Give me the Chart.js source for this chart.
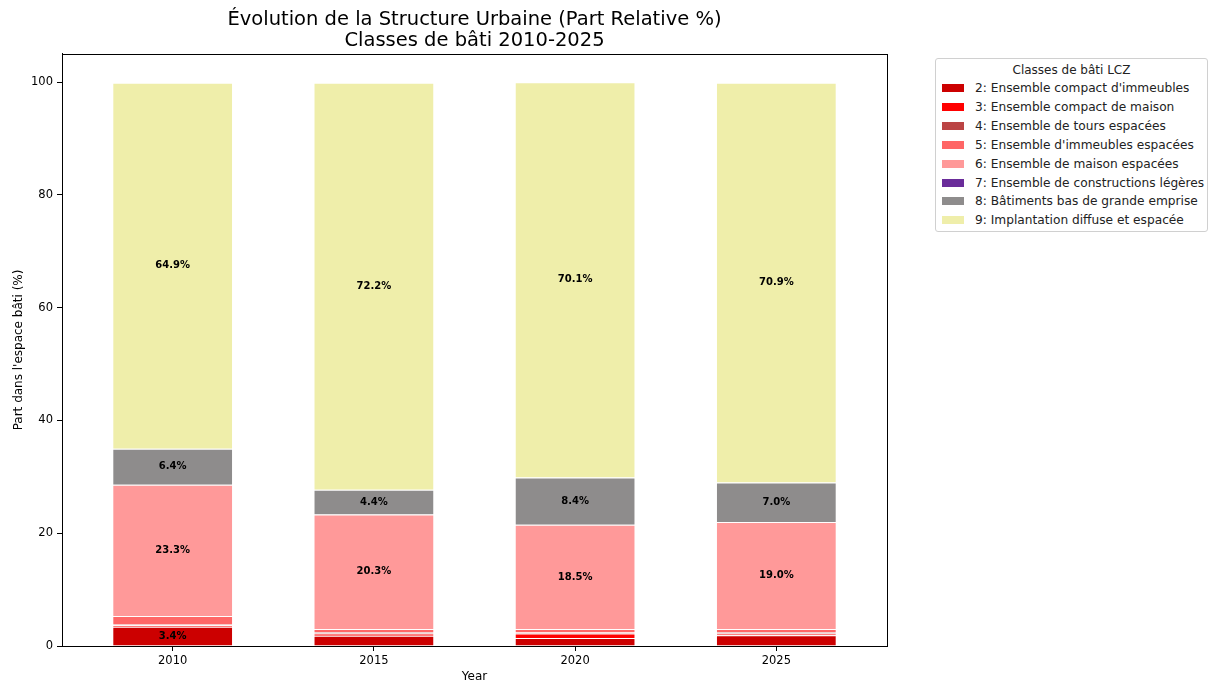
<!DOCTYPE html>
<html>
<head>
<meta charset="utf-8">
<script src="https://cdn.jsdelivr.net/npm/chart.js@4.4.1/dist/chart.umd.min.js"></script>
<style>
  body { margin: 0; background: #fff; font-family: 'DejaVu Sans', sans-serif; }
  #wrap { position: relative; width: 1210px; height: 684px; }
  #legend {
    position: absolute; left: 935px; top: 58px; width: 271px; height: 172px;
    border: 1px solid #d0d0d0; border-radius: 3px; background: #fff;
    font-size: 12.2px; color: #222;
  }
  #legend .title { text-align: center; margin-top: 4px; height: 19px; font-size: 12px; }
  #legend .item { position: absolute; left: 6px; height: 19px; line-height: 19px; white-space: nowrap; }
  #legend .sw { display: inline-block; width: 22px; height: 8px; margin-right: 11px; vertical-align: 0px; }
</style>
</head>
<body>
<div id="wrap">
  <canvas id="lcz-chart" width="1210" height="684"></canvas>
  <div id="legend"><div class="title">Classes de bâti LCZ</div></div>
</div>
<script>
const years = ['2010', '2015', '2020', '2025']
const classes = [
  "2: Ensemble compact d'immeubles",
  '3: Ensemble compact de maison',
  '4: Ensemble de tours espacées',
  "5: Ensemble d'immeubles espacées",
  '6: Ensemble de maison espacées',
  '7: Ensemble de constructions légères',
  '8: Bâtiments bas de grande emprise',
  '9: Implantation diffuse et espacée'
]
const colors = ['#cc0000', '#ff0000', '#bb4444', '#ff6666', '#ff9999', '#6a2c9a', '#8e8c8c', '#efeeaa']

// parts relatives (%) par classe, dans l'ordre des années
const lcz2 = [3.4, 1.8, 1.4, 1.9]
const lcz3 = [0.3, 0.4, 0.8, 0.3]
const lcz4 = [0.1, 0.3, 0.2, 0.3]
const lcz5 = [1.5, 0.5, 0.6, 0.5]
const lcz6 = [23.3, 20.3, 18.5, 19.0]
const lcz7 = [0, 0, 0, 0]
const lcz8 = [6.4, 4.4, 8.4, 7.0]
const lcz9 = [64.9, 72.2, 70.1, 70.9]
const series = [lcz2, lcz3, lcz4, lcz5, lcz6, lcz7, lcz8, lcz9]

const yTicks = [0, 20, 40, 60, 80, 100]

// légende html (boîte à droite)
const legendBox = document.getElementById('legend')
classes.forEach((name, i) => {
  const row = document.createElement('div')
  row.className = 'item'
  row.style.top = (20 + i * 18.9) + 'px'
  row.innerHTML = '<span class="sw" style="background:' + colors[i] + '"></span>' + name
  legendBox.appendChild(row)
})

// cadre autour du graphique + étiquettes des valeurs
const framePlugin = {
  id: 'frame',
  afterDatasetsDraw (chart) {
    const ctx = chart.ctx
    ctx.save()
    ctx.font = 'bold 10px "DejaVu Sans"'
    ctx.fillStyle = '#000'
    ctx.textAlign = 'center'
    ctx.textBaseline = 'middle'
    chart.data.datasets.forEach((ds, i) => {
      chart.getDatasetMeta(i).data.forEach((bar, j) => {
        const v = ds.data[j].y
        if (v > 3) {
          ctx.fillText(v.toFixed(1) + '%', bar.x, (bar.y + bar.base) / 2)
        }
      })
    })
    const a = chart.chartArea
    ctx.strokeStyle = '#000'
    ctx.lineWidth = 1
    ctx.strokeRect(Math.round(a.left) + 0.5, Math.round(a.top) + 0.5, Math.round(a.right - a.left), Math.round(a.bottom - a.top))
    ctx.restore()
  }
}

Chart.defaults.font.family = '"DejaVu Sans", sans-serif'
Chart.defaults.color = '#000'

new Chart(document.getElementById('lcz-chart').getContext('2d'), {
  type: 'bar',
  data: {
    datasets: series.map((values, i) => ({
      label: classes[i],
      data: values.map((v, j) => ({ x: j, y: v })),
      backgroundColor: colors[i],
      borderColor: '#ffffff',
      borderWidth: 1,
      barPercentage: 0.6,
      categoryPercentage: 1
    }))
  },
  options: {
    responsive: false,
    animation: false,
    layout: { padding: { left: 0, right: 323, top: 0, bottom: 0 } },
    plugins: {
      legend: { display: false },
      tooltip: { enabled: false },
      title: {
        display: true,
        fullSize: false,
        text: ['Évolution de la Structure Urbaine (Part Relative %)', 'Classes de bâti 2010-2025'],
        font: { size: 19.5, weight: 'normal', lineHeight: 1.05 },
        color: '#000',
        padding: { top: 10, bottom: 3 }
      }
    },
    scales: {
      x: {
        type: 'linear',
        stacked: true,
        min: -0.55,
        max: 3.55,
        offset: false,
        grid: { display: true, offset: false, drawOnChartArea: false, tickLength: 5, color: '#000' },
        border: { display: true, color: '#000' },
        afterBuildTicks (scale) { scale.ticks = years.map((y, j) => ({ value: j })) },
        ticks: { font: { size: 11.5 }, padding: 3, callback: (v) => years[v] },
        title: { display: true, text: 'Year', font: { size: 12 }, padding: { top: 1, bottom: 0 } },
        afterFit (scale) { scale.height = 38 }
      },
      y: {
        stacked: true,
        min: 0,
        max: 105,
        grid: { display: true, drawOnChartArea: false, tickLength: 5, color: '#000' },
        border: { display: true, color: '#000' },
        afterBuildTicks (scale) { scale.ticks = yTicks.map(v => ({ value: v })) },
        ticks: { font: { size: 11.5 }, padding: 4 },
        title: { display: true, text: "Part dans l'espace bâti (%)", font: { size: 12 }, padding: { top: 12, bottom: 0 } },
        afterFit (scale) { scale.width = 62 }
      }
    }
  },
  plugins: [framePlugin]
})
</script>
</body>
</html>
